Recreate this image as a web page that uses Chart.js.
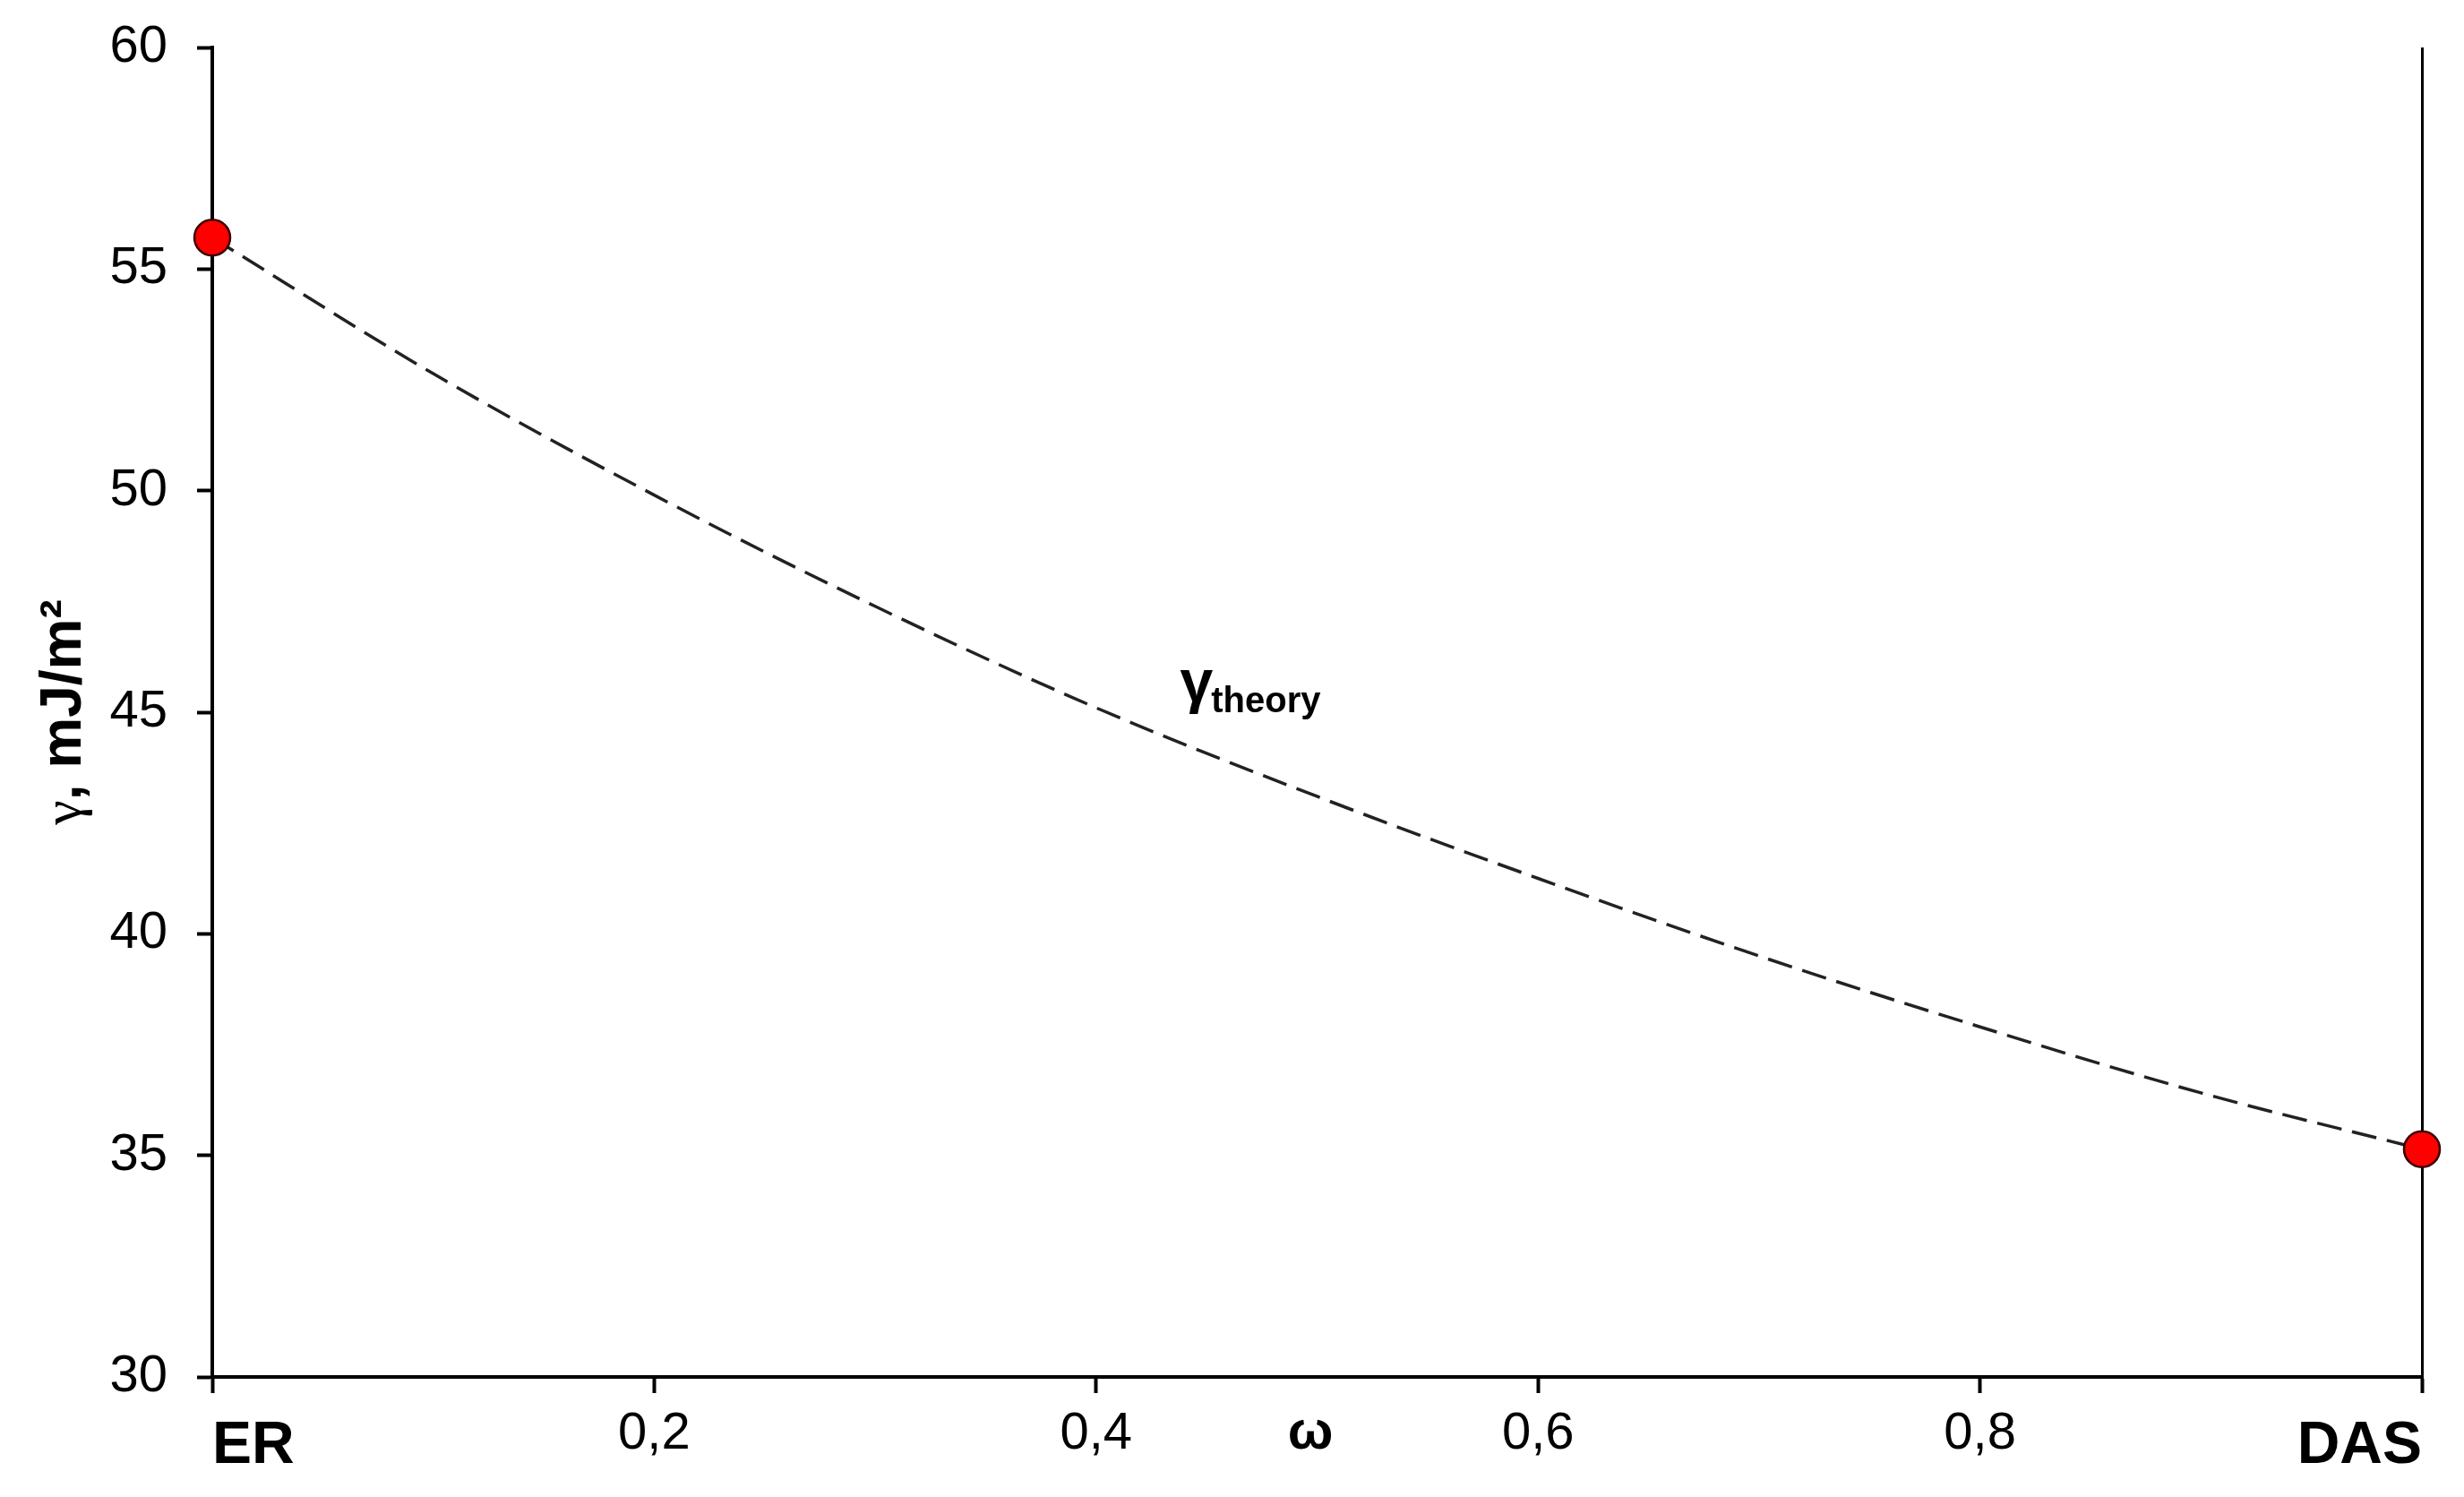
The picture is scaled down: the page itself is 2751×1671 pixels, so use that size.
<!DOCTYPE html>
<html lang="en">
<head>
  <meta charset="UTF-8">
  <title>Surface tension vs composition</title>
  <script src="https://cdn.jsdelivr.net/npm/chart.js"></script>
  <style>
    html, body { margin: 0; padding: 0; background: #fff; }
    .chart-box { position: relative; width: 2751px; height: 1671px; }
  </style>
</head>
<body>
<div class="chart-box">
  <canvas id="gammaChart"></canvas>
</div>
<script>
  // curve values (omega, gamma)
  var omega = [0, 0.1, 0.2, 0.3, 0.4, 0.5, 0.6, 0.7, 0.8, 0.9, 1];
  var gammaTheory = [55.71, 52.64, 49.9, 47.39, 45.1, 43.1, 41.25, 39.5, 37.9, 36.41, 35.14];

  // measured end points (ER and DAS)
  var endOmega = [0, 1];
  var endGamma = [55.71, 35.14];

  var yTicks = [30, 35, 40, 45, 50, 55, 60];

  // text labels drawn on top of the chart
  var endLabels = ['ER', 'DAS'];
  var xTitle = 'ω';
  var curveLabel = ['γ', 'theory'];
  var curveLabelAt = { x: 0.438, y: 45.25 };

  function pts(xs, ys) {
    return xs.map(function(x, i) { return { x: x, y: ys[i] }; });
  }

  var sans = "'Liberation Sans', Arial, sans-serif";
  var narrow = "'Liberation Sans Narrow', 'Arial Narrow', 'Liberation Sans', sans-serif";

  var labelsPlugin = {
    id: 'labels',
    afterDraw: function(chart) {
      var ctx = chart.ctx;
      var xs = chart.scales.x, ys = chart.scales.y;
      var bottom = chart.chartArea.bottom;
      ctx.save();
      ctx.fillStyle = '#000';
      ctx.textBaseline = 'alphabetic';

      // ER / omega / DAS on the x axis row
      ctx.font = 'bold 66px ' + sans;
      ctx.textAlign = 'left';
      ctx.fillText(endLabels[0], xs.getPixelForValue(0), bottom + 96);
      ctx.textAlign = 'right';
      ctx.fillText(endLabels[1], xs.getPixelForValue(1), bottom + 96);
      ctx.font = 'bold 60px ' + sans;
      ctx.textAlign = 'center';
      ctx.fillText(xTitle, xs.getPixelForValue(0.497), bottom + 80);

      // curve label: gamma with subscript
      var lx = xs.getPixelForValue(curveLabelAt.x);
      var ly = ys.getPixelForValue(curveLabelAt.y);
      ctx.textAlign = 'left';
      ctx.font = 'bold 66px ' + sans;
      ctx.fillText(curveLabel[0], lx, ly);
      var gw = ctx.measureText(curveLabel[0]).width;
      ctx.font = 'bold 40px ' + sans;
      ctx.fillText(curveLabel[1], lx + gw - 2, ly + 12);

      // y axis title, rotated
      var g = 'γ', rest = ', mJ/m²';
      var serif = "'Liberation Serif', 'Times New Roman', serif";
      ctx.font = '62px ' + serif;
      var w1 = ctx.measureText(g).width;
      ctx.font = 'bold 64px ' + sans;
      var w2 = ctx.measureText(rest).width;
      var cy = (chart.chartArea.top + bottom) / 2;
      ctx.translate(90, cy);
      ctx.rotate(-Math.PI / 2);
      var start = -(w1 + w2) / 2;
      ctx.textAlign = 'left';
      ctx.font = '62px ' + serif;
      ctx.fillText(g, start, 0);
      ctx.font = 'bold 64px ' + sans;
      ctx.fillText(rest, start + w1, 0);
      ctx.restore();
    }
  };

  var ctx = document.getElementById('gammaChart').getContext('2d');
  var chart = new Chart(ctx, {
    type: 'line',
    data: {
      datasets: [{
        label: 'gamma theory',
        data: pts(omega, gammaTheory),
        borderColor: '#222',
        borderWidth: 3.5,
        borderDash: [28, 12],
        pointRadius: 0,
        cubicInterpolationMode: 'monotone',
        fill: false,
        order: 2
      }, {
        label: 'end points',
        data: pts(endOmega, endGamma),
        showLine: false,
        pointRadius: 20,
        pointBackgroundColor: '#ff0000',
        pointBorderColor: '#3a0000',
        pointBorderWidth: 2.5,
        clip: false,
        order: 1
      }]
    },
    options: {
      responsive: true,
      maintainAspectRatio: false,
      animation: false,
      layout: { autoPadding: false, padding: { left: 0, top: 53, right: 47, bottom: 0 } },
      plugins: {
        legend: { display: false },
        tooltip: { enabled: false }
      },
      scales: {
        x: {
          type: 'linear',
          min: 0,
          max: 1,
          afterFit: function(scale) {
            scale.height = 134;
            scale.paddingLeft = 0;
            scale.paddingRight = 0;
          },
          border: { color: '#000', width: 4 },
          grid: {
            drawOnChartArea: true,
            color: function(c) {
              return c.tick && Math.abs(c.tick.value - 1) < 1e-6 ? '#000' : 'rgba(0,0,0,0)';
            },
            lineWidth: 3,
            tickColor: '#000',
            tickWidth: 4,
            tickLength: 18
          },
          ticks: {
            stepSize: 0.2,
            padding: 11,
            color: '#000',
            font: { family: narrow, size: 58 },
            callback: function(v) {
              if (Math.abs(v) < 1e-6 || Math.abs(v - 1) < 1e-6) return '';
              return Number(v).toFixed(1).replace('.', ',');
            }
          }
        },
        y: {
          min: 30,
          max: 60,
          afterFit: function(scale) {
            scale.width = 237;
            scale.paddingTop = 0;
            scale.paddingBottom = 0;
          },
          afterBuildTicks: function(scale) {
            scale.ticks = yTicks.map(function(v) { return { value: v }; });
          },
          border: { color: '#000', width: 4 },
          grid: {
            drawOnChartArea: false,
            tickColor: '#000',
            tickWidth: 4,
            tickLength: 17
          },
          ticks: {
            padding: 33,
            color: '#000',
            font: { family: narrow, size: 58 }
          }
        }
      }
    },
    plugins: [labelsPlugin]
  });
</script>
</body>
</html>
